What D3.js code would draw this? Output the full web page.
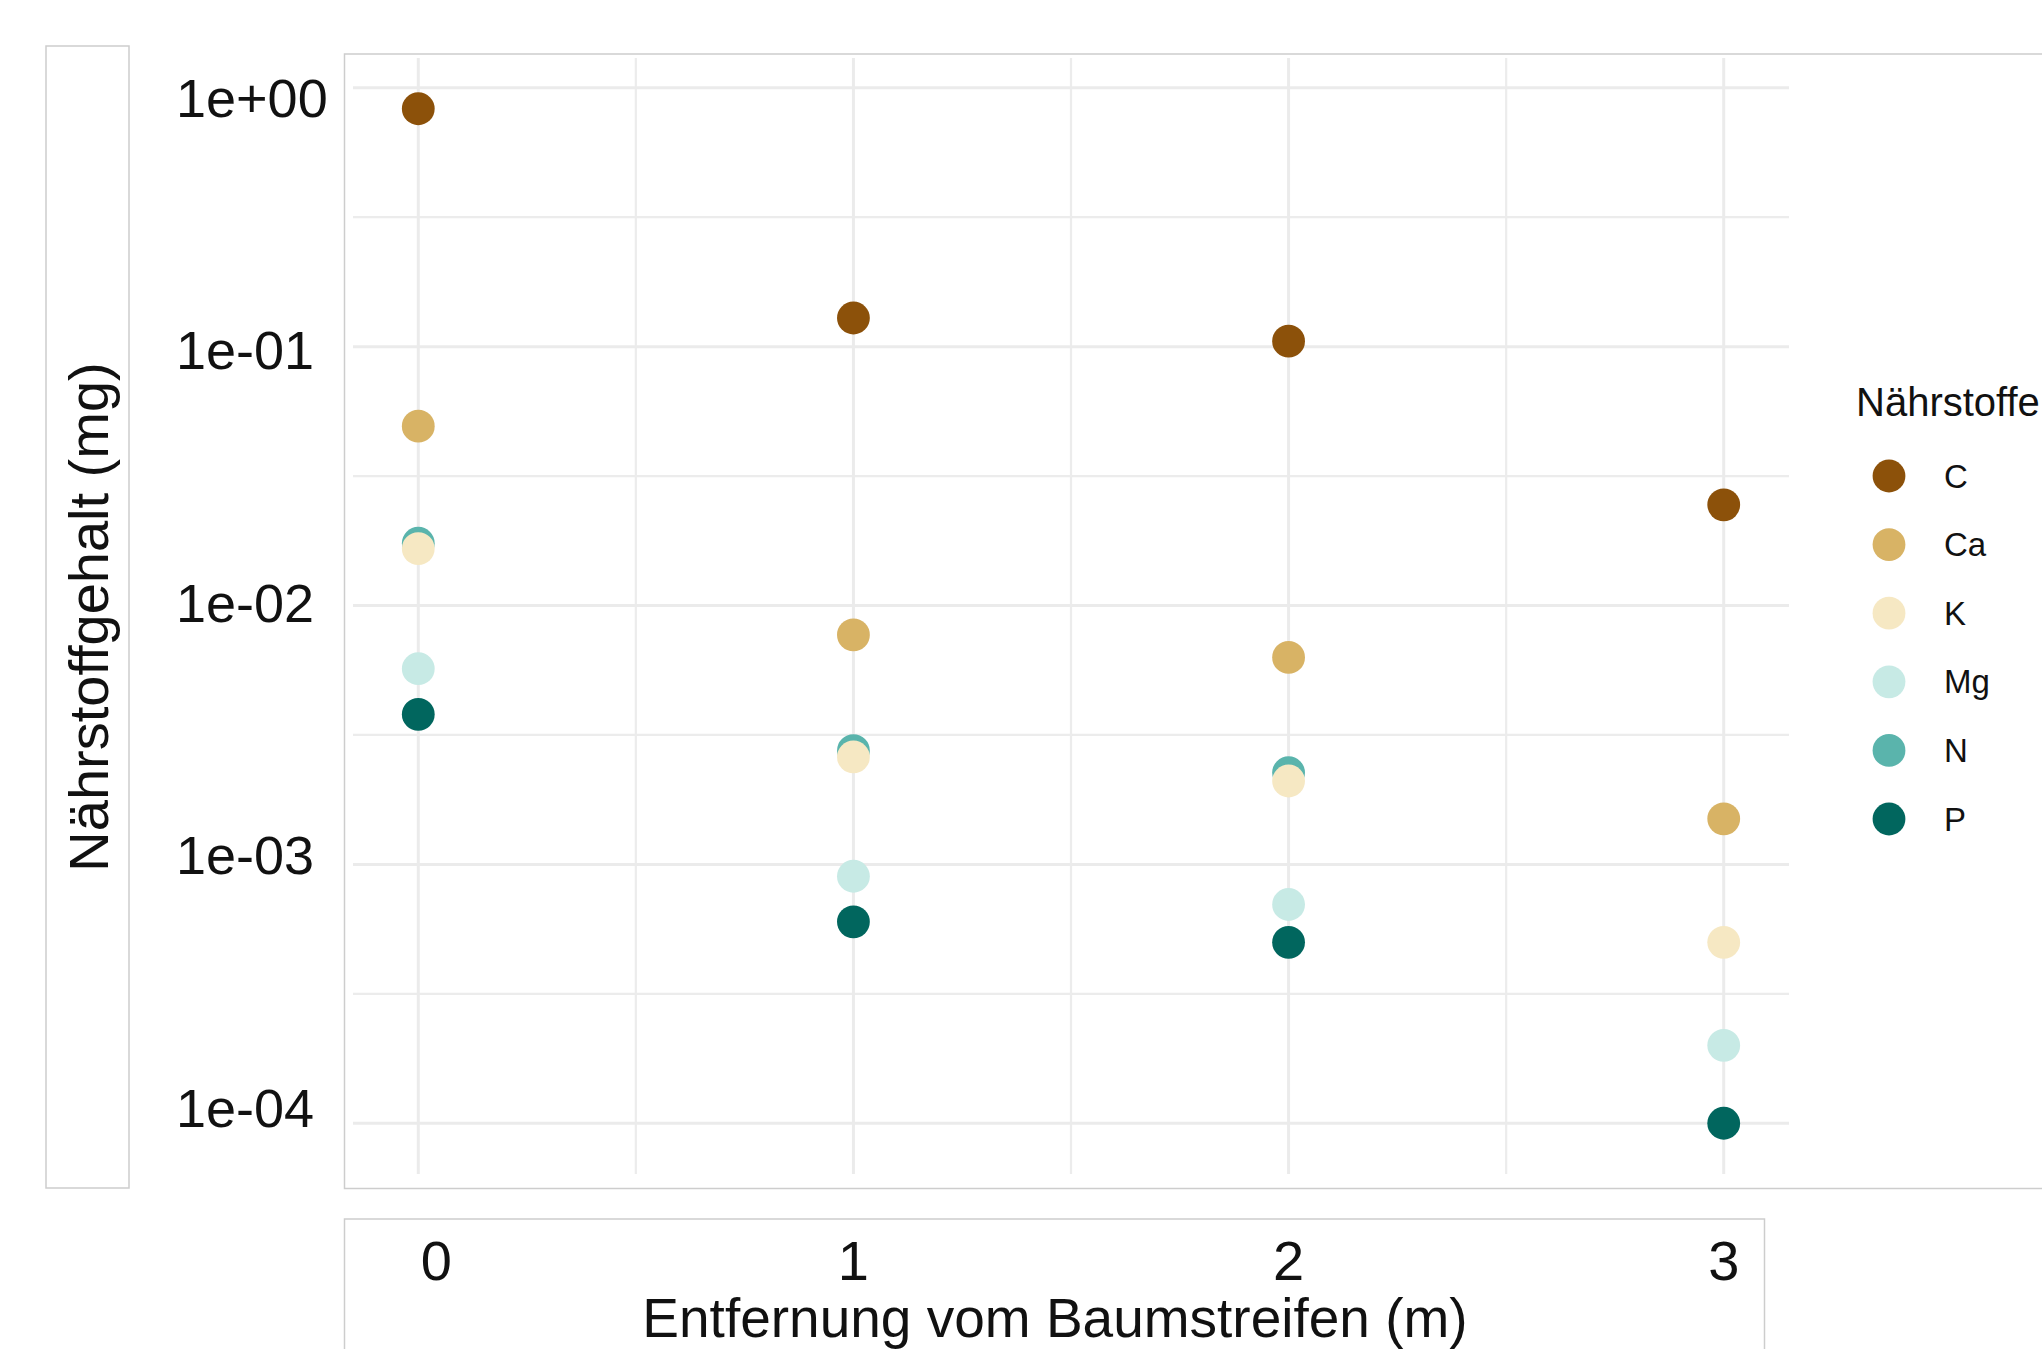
<!DOCTYPE html>
<html>
<head>
<meta charset="utf-8">
<script src="https://cdn.jsdelivr.net/npm/d3@7"></script>
<style>
  body { margin: 0; background: #fff; }
  text { font-family: "Liberation Sans", Arial, sans-serif; fill: #111; }
</style>
</head>
<body>
<svg id="chart" width="2042" height="1349"></svg>
<script>
// Data
var distances = [0, 1, 2, 3];
var nutrients = ['C', 'Ca', 'K', 'Mg', 'N', 'P'];
var colors = ['#8c510a', '#d8b365', '#f6e8c3', '#c7eae5', '#5ab4ac', '#01665e'];
var valuesC  = [0.83, 0.129, 0.105, 0.0245];
var valuesCa = [0.0493, 0.0077, 0.0063, 0.0015];
var valuesK  = [0.0166, 0.0026, 0.0021, 0.0005];
var valuesMg = [0.0057, 0.0009, 0.0007, 0.0002];
var valuesN  = [0.0174, 0.00275, 0.00226, null];
var valuesP  = [0.0038, 0.0006, 0.0005, 0.0001];
var yTicks = [1, 1e-1, 1e-2, 1e-3, 1e-4];
var yTickLabels = ['1e+00', '1e-01', '1e-02', '1e-03', '1e-04'];
var xTitle = 'Entfernung vom Baumstreifen (m)';
var yTitle = 'Nährstoffgehalt (mg)';
var legendTitle = 'Nährstoffe';

var series = {C: valuesC, Ca: valuesCa, K: valuesK, Mg: valuesMg, N: valuesN, P: valuesP};
// N sits under K in the picture, so it is drawn before K
var drawOrder = ['C', 'Ca', 'N', 'K', 'Mg', 'P'];

var points = [];
drawOrder.forEach(function(n) {
  series[n].forEach(function(v, i) {
    if (v != null) points.push({nutrient: n, dist: distances[i], value: v});
  });
});

var color = d3.scaleOrdinal().domain(nutrients).range(colors);

var svg = d3.select('#chart');
var panel = {left: 353, right: 1789, top: 58, bottom: 1174};

// ggplot-like 5% expansion
var xExt = d3.extent(distances);
var xPad = (xExt[1] - xExt[0]) * 0.05;
var x = d3.scaleLinear().domain([xExt[0] - xPad, xExt[1] + xPad]).range([panel.left, panel.right]);

var lExt = d3.extent(points, function(d) { return Math.log10(d.value); });
var lPad = (lExt[1] - lExt[0]) * 0.05;
var y = d3.scaleLog().domain([Math.pow(10, lExt[0] - lPad), Math.pow(10, lExt[1] + lPad)])
  .range([panel.bottom, panel.top]);

// boxes
var boxStroke = '#cdcdcd';
svg.append('rect').attr('x', 46).attr('y', 46).attr('width', 83).attr('height', 1142)
  .attr('fill', 'none').attr('stroke', boxStroke).attr('stroke-width', 1.5);
svg.append('rect').attr('x', 344.5).attr('y', 54).attr('width', 1760).attr('height', 1134.5)
  .attr('fill', 'none').attr('stroke', boxStroke).attr('stroke-width', 1.5);
svg.append('rect').attr('x', 344.5).attr('y', 1219).attr('width', 1420).attr('height', 200)
  .attr('fill', 'none').attr('stroke', boxStroke).attr('stroke-width', 1.5);

// grid
var g = svg.append('g');
var minorX = [0.5, 1.5, 2.5];
var minorY = yTicks.slice(1).map(function(t) { return t * Math.sqrt(10); });

g.selectAll('.minor-y').data(minorY).enter().append('line')
  .attr('x1', panel.left).attr('x2', panel.right)
  .attr('y1', function(d) { return y(d); }).attr('y2', function(d) { return y(d); })
  .attr('stroke', '#ececec').attr('stroke-width', 2.2);
g.selectAll('.minor-x').data(minorX).enter().append('line')
  .attr('y1', panel.top).attr('y2', panel.bottom)
  .attr('x1', function(d) { return x(d); }).attr('x2', function(d) { return x(d); })
  .attr('stroke', '#ececec').attr('stroke-width', 2.2);
g.selectAll('.major-y').data(yTicks).enter().append('line')
  .attr('x1', panel.left).attr('x2', panel.right)
  .attr('y1', function(d) { return y(d); }).attr('y2', function(d) { return y(d); })
  .attr('stroke', '#ebebeb').attr('stroke-width', 3);
g.selectAll('.major-x').data(distances).enter().append('line')
  .attr('y1', panel.top).attr('y2', panel.bottom)
  .attr('x1', function(d) { return x(d); }).attr('x2', function(d) { return x(d); })
  .attr('stroke', '#ebebeb').attr('stroke-width', 3);

// points
svg.append('g').selectAll('circle').data(points).enter().append('circle')
  .attr('cx', function(d) { return x(d.dist); })
  .attr('cy', function(d) { return y(d.value); })
  .attr('r', 16.4)
  .attr('fill', function(d) { return color(d.nutrient); });

// y tick labels (left aligned, sit in their own strip)
var yLab = d3.scaleLog().domain([1, 1e-4]).range([97.7, 1108]);
svg.append('g').selectAll('text').data(yTicks).enter().append('text')
  .attr('x', 176)
  .attr('y', function(d) { return yLab(d); })
  .attr('dominant-baseline', 'central')
  .attr('font-size', 54)
  .text(function(d, i) { return yTickLabels[i]; });

// x tick labels in the lower box (first one sits a bit to the right)
svg.append('g').selectAll('text').data(distances).enter().append('text')
  .attr('x', function(d) { return x(d); })
  .attr('dx', function(d, i) { return i === 0 ? 18 : 0; })
  .attr('y', 1280)
  .attr('text-anchor', 'middle')
  .attr('font-size', 56)
  .text(function(d) { return d; });

// axis titles
svg.append('text')
  .attr('x', 1055).attr('y', 1337)
  .attr('text-anchor', 'middle')
  .attr('font-size', 55)
  .text(xTitle);

svg.append('text')
  .attr('transform', 'translate(108,617) rotate(-90)')
  .attr('text-anchor', 'middle')
  .attr('font-size', 56)
  .text(yTitle);

// legend
var legend = svg.append('g');
legend.append('text')
  .attr('x', 1856).attr('y', 416)
  .attr('font-size', 40)
  .text(legendTitle);

var keyY = d3.scalePoint().domain(nutrients).range([476, 819]);
var keys = legend.selectAll('.key').data(nutrients).enter().append('g');
keys.append('circle')
  .attr('cx', 1889)
  .attr('cy', function(d) { return keyY(d); })
  .attr('r', 16.4)
  .attr('fill', function(d) { return color(d); });
keys.append('text')
  .attr('x', 1944)
  .attr('y', function(d) { return keyY(d); })
  .attr('dominant-baseline', 'central')
  .attr('font-size', 33)
  .text(function(d) { return d; });
</script>
</body>
</html>
